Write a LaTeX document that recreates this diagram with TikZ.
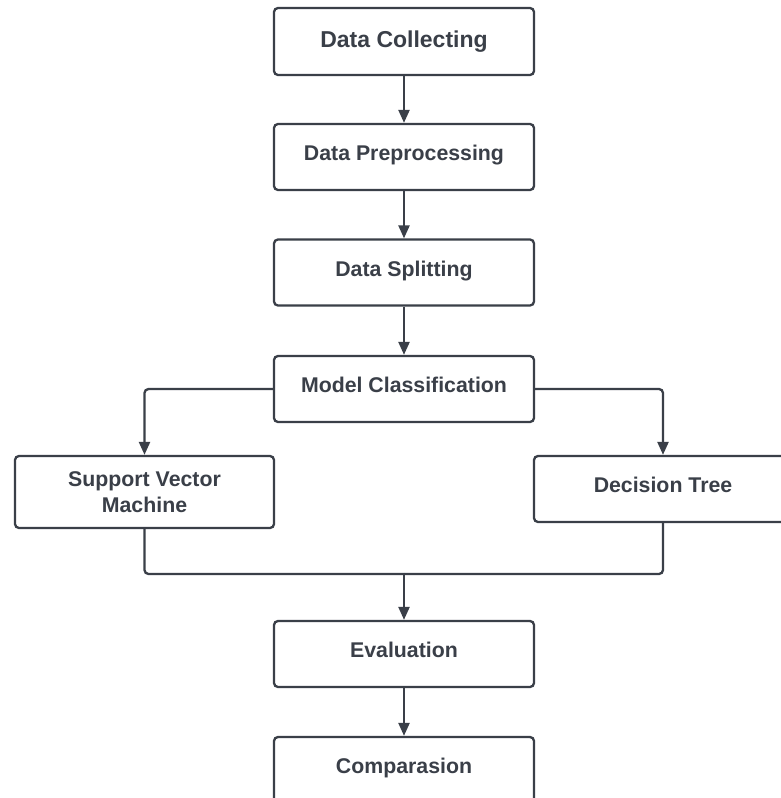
\documentclass[tikz,border=0pt]{standalone}
\usepackage{fontspec}
\setmainfont{Liberation Sans}
\usetikzlibrary{arrows.meta}
\definecolor{ink}{HTML}{3A3F48}
\begin{document}
\begin{tikzpicture}[x=1pt,y=-1pt,
  box/.style={draw=ink, line width=2.3pt, rounded corners=4pt, fill=white, text=ink,
    font=\bfseries\fontsize{21.3}{26}\selectfont, align=center, inner sep=0pt,
    minimum width=260pt, minimum height=66pt},
  raised/.style={text height=16pt, text depth=8.8pt},
  conn/.style={draw=ink, line width=2.3pt, rounded corners=4pt},
  arr/.style={conn, -{Triangle[length=13pt,width=11pt]}}]
\useasboundingbox (0,0) rectangle (781,798);
\fill[white] (0,0) rectangle (781,798);
\clip (0,0) rectangle (781,798);

\node[box, minimum height=67pt, font=\bfseries\fontsize{23}{28}\selectfont, text height=17pt, text depth=5.5pt] (dc) at (404,41.5) {Data Collecting};
\node[box, raised] (dp) at (404,157) {Data Preprocessing};
\node[box, raised] (ds) at (404,272.5) {Data Splitting};
\node[box, raised] (mc) at (404,389) {Model Classification};
\node[box, minimum width=259pt, minimum height=72pt] (svm) at (144.5,492) {Support Vector\\Machine};
\node[box, raised, minimum width=258pt] (dt) at (663,489) {Decision Tree};
\node[box, raised] (ev) at (404,654) {Evaluation};
\node[box, raised] (cp) at (404,770) {Comparasion};

\coordinate (j) at (404,574);

\draw[arr] (dc) -- (dp);
\draw[arr] (dp) -- (ds);
\draw[arr] (ds) -- (mc);
\draw[arr] (mc.west) -| (svm.north);
\draw[arr] (mc.east) -| (dt.north);
\draw[conn] (svm.south) |- (j);
\draw[conn] (dt.south) |- (j);
\draw[arr] (j) -- (ev);
\draw[arr] (ev) -- (cp);
\end{tikzpicture}
\end{document}
